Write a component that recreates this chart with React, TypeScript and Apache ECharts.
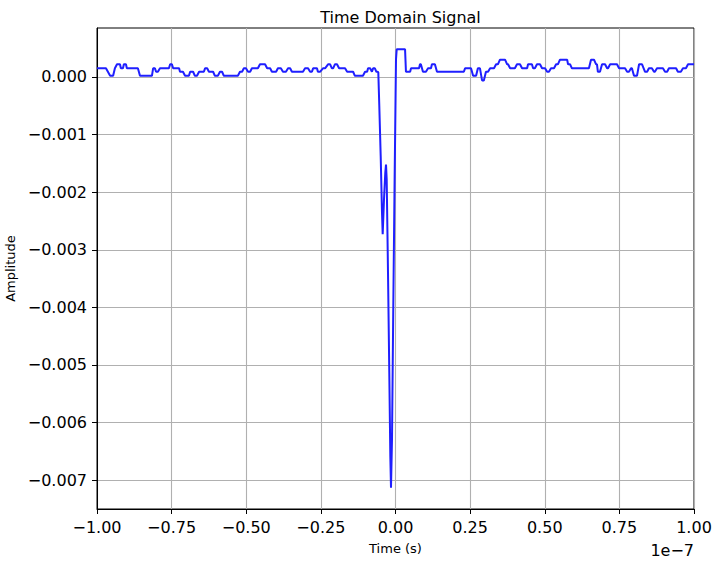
import React, { useEffect, useRef } from "react";
import * as echarts from "echarts";

// Quantized noise levels (Amplitude)
const A = 0.00002;
const B = 0.00009;
const C = 0.00015;
const D = 0.00022;
const E = 0.0003;
const N = -0.00006;
const P = 0.00048;

// Flat noise segments: start time (ns), end time (ns), level
const segT0 = [
  -100, -95.6, -94, -93.3, -92, -91, -90, -85.6, -81.2, -80.2, -78.9, -75.5, -74.5, -72.2, -70.5, -68.8,
  -67.2, -65.8, -63.8, -62.5, -60.5, -58.8, -57.5, -52.1, -50.8, -49.4, -48.1, -45.4, -43.0, -41.4, -39.4,
  -37.7, -36.0, -34.7, -30.3, -28.6, -27.6, -26.0, -24.3, -22.6, -21.3, -20.3, -18.9, -16.2, -13.6, -10.2,
  -9.2, -7.9, -7.5, -6.4,
  0.6, 3.5, 5.2, 8.2, 9.2, 10.9, 12.2, 13.9, 23.3, 26.0, 27.6, 29.0, 30.3, 31.7, 33.7, 35.0, 37.4, 38.4,
  40.7, 42.4, 44.4, 46.1, 47.4, 49.1, 50.8, 52.1, 53.8, 55.1, 57.8, 59.1, 65.5, 67.2, 67.8, 69.2, 70.9,
  71.9, 74.9, 77.6, 78.9, 79.9, 81.6, 83.6, 84.9, 86.6, 87.6, 90.3, 91.6, 94.6, 96.3, 98.0,
];
const segT1 = [
  -97, -94.6, -94, -92.3, -91.3, -90.3, -86.3, -81.6, -80.6, -79.6, -75.9, -74.9, -72.5, -71.2, -69.2, -67.8,
  -66.5, -64.2, -63.1, -61.1, -59.5, -58.1, -52.8, -51.4, -50.1, -48.7, -46.1, -43.7, -42.0, -40.0, -38.4,
  -36.7, -35.3, -31.0, -29.3, -28.0, -26.3, -25.3, -23.6, -21.9, -20.9, -19.6, -16.9, -14.2, -10.9, -9.5,
  -8.5, -7.9, -6.9, -6.0,
  3.2, 4.9, 7.9, 8.5, 10.2, 11.9, 13.2, 22.9, 25.3, 27.0, 28.3, 29.6, 31.0, 33.0, 34.3, 36.7, 37.7, 40.0,
  41.7, 44.1, 45.7, 46.7, 48.4, 50.1, 51.4, 53.1, 54.4, 57.5, 58.5, 64.8, 66.5, 67.5, 68.5, 70.2, 71.2,
  74.2, 76.9, 78.2, 79.2, 80.9, 82.6, 84.3, 85.9, 86.9, 89.6, 91.0, 94.0, 95.6, 97.3, 100,
];
const segV = [
  C, A, C, D, C, D, C, A, C, B, C, D, C, B, A, B,
  A, B, C, B, A, B, A, B, C, B, C, D, C, B, C,
  B, C, B, C, B, C, B, C, D, C, D, C, B, A, B,
  C, B, C, B,
  P, B, C, D, B, C, D, B, C, A, C, N, B, C, D, E, D, C,
  D, C, D, C, D, C, B, C, D, E, D, C, E, D, B, D, C,
  D, C, B, C, A, D, B, C, B, C, B, C, B, C, D,
];

// Pulse samples (ns, Amplitude)
const pulseT = [
  -5.76, -5.43, -4.96, -4.52, -4.29, -3.85, -3.42, -3.18, -2.95, -2.51, -2.08, -1.74, -1.51, -1.17, -0.74,
  -0.27, 0.17, 0.4,
];
const pulseV = [
  0.00008, -0.0005, -0.00137, -0.00236, -0.00273, -0.00212, -0.00166, -0.00152, -0.00178, -0.0034, -0.00513,
  -0.00658, -0.00713, -0.00629, -0.00398, -0.00166, 0.00031, 0.00048,
];

const xTicks = [-100, -75, -50, -25, 0, 25, 50, 75, 100];
const yTicks = [-0.007, -0.006, -0.005, -0.004, -0.003, -0.002, -0.001, 0];

const minus = (s: string) => s.replace("-", "\u2212");

function buildData(): [number, number][] {
  const pts: [number, number][] = [];
  for (let i = 0; i < segT0.length; i++) {
    if (segT0[i] > 0 && pts.length && pts[pts.length - 1][0] < 0) {
      for (let j = 0; j < pulseT.length; j++) pts.push([pulseT[j], pulseV[j]]);
    }
    pts.push([segT0[i], segV[i]]);
    if (segT1[i] !== segT0[i]) pts.push([segT1[i], segV[i]]);
  }
  return pts;
}

export default function App() {
  const ref = useRef<HTMLDivElement>(null);
  useEffect(() => {
    document.body.style.margin = "0";
    if (!ref.current) return;
    const chart = echarts.init(ref.current, undefined, { renderer: "svg" });
    const font = "DejaVu Sans";
    chart.setOption({
      animation: false,
      backgroundColor: "#ffffff",
      textStyle: { fontFamily: font },
      title: {
        text: "Time Domain Signal",
        left: 395.5,
        top: 4,
        textAlign: "center",
        textStyle: { fontFamily: font, fontSize: 16, fontWeight: "normal", color: "#000" },
      },
      grid: {
        left: 97,
        right: 20,
        top: 28,
        bottom: 52,
        show: true,
        borderColor: "#000",
        borderWidth: 1,
        backgroundColor: "transparent",
        containLabel: false,
        outerBoundsMode: "none",
      },
      xAxis: {
        type: "value",
        min: -100,
        max: 100,
        interval: 25,
        name: "Time (s)",
        nameLocation: "middle",
        nameGap: 33,
        nameTextStyle: { fontFamily: font, fontSize: 13, color: "#000" },
        axisLine: { show: true, onZero: false, lineStyle: { color: "#000", width: 1 } },
        axisTick: { show: true, inside: false, length: 5, lineStyle: { color: "#000" } },
        axisLabel: {
          fontFamily: font,
          fontSize: 16,
          color: "#000",
          margin: 10,
          formatter: (v: number) => minus((v / 100).toFixed(2)),
          customValues: xTicks,
        },
        splitLine: { show: true, lineStyle: { color: "#b0b0b0", width: 1.1 } },
      },
      yAxis: {
        type: "value",
        min: -0.0075,
        max: 0.00085,
        name: "Amplitude",
        nameLocation: "middle",
        nameGap: 79,
        nameTextStyle: { fontFamily: font, fontSize: 13, color: "#000" },
        axisLine: { show: true, onZero: false, lineStyle: { color: "#000", width: 1 } },
        axisTick: { show: true, inside: false, length: 5, lineStyle: { color: "#000" }, customValues: yTicks },
        axisLabel: {
          fontFamily: font,
          fontSize: 16,
          color: "#000",
          margin: 10,
          customValues: yTicks,
          formatter: (v: number) => minus((Math.abs(v) < 1e-12 ? 0 : v).toFixed(3)),
        },
        splitLine: { show: true, lineStyle: { color: "#b0b0b0", width: 1.1 } },
      },
      graphic: [
        {
          type: "text",
          right: 20,
          top: 542,
          style: { text: "1e\u22127", fontFamily: font, fontSize: 16, fill: "#000" },
        },
      ],
      series: [
        {
          type: "line",
          data: buildData(),
          showSymbol: false,
          symbol: "none",
          z: 3,
          lineStyle: { color: "#1f1fff", width: 2 },
        },
      ],
    });
    return () => chart.dispose();
  }, []);
  return <div ref={ref} style={{ width: 714, height: 561 }} />;
}
